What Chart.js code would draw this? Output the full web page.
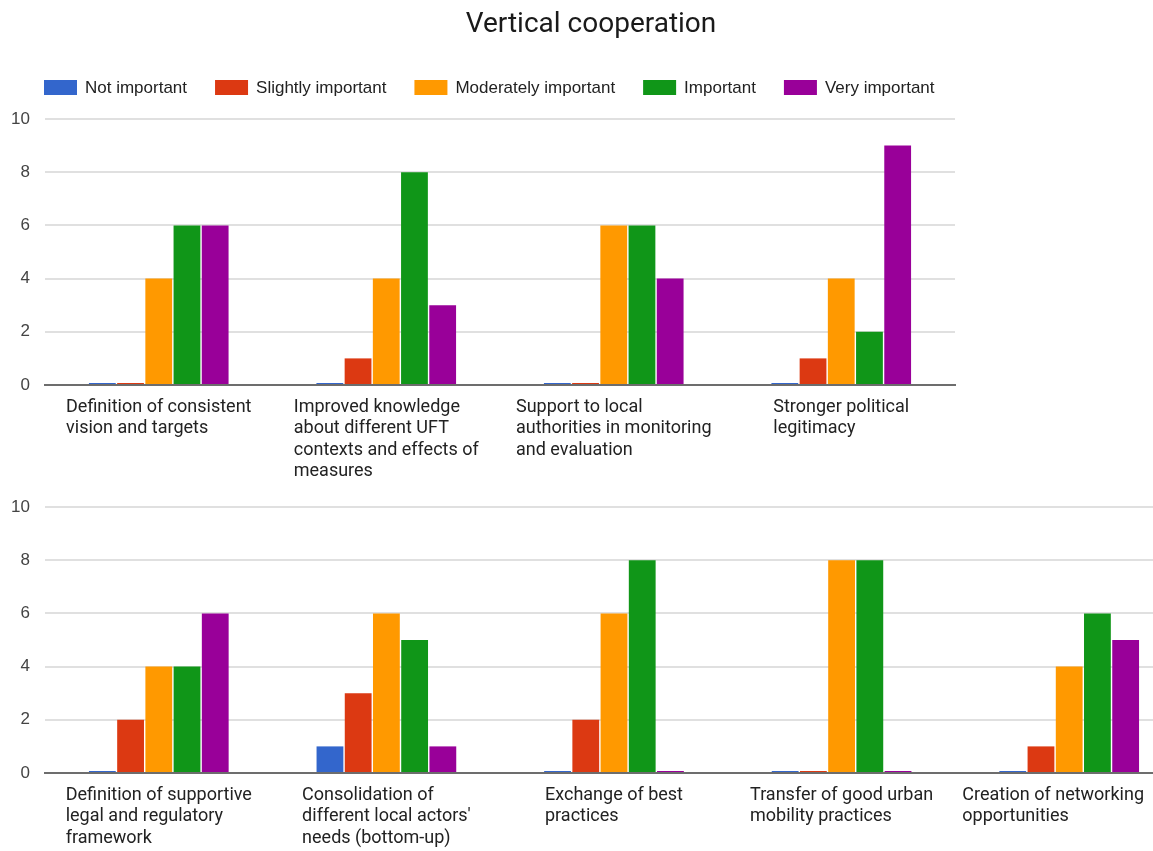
<!DOCTYPE html>
<html>
<head>
<meta charset="utf-8">
<title>Vertical cooperation</title>
<script src="https://cdn.jsdelivr.net/npm/chart.js@4.4.1/dist/chart.umd.min.js"></script>
<style>
  html, body { margin: 0; padding: 0; background: #fff; overflow: hidden; }
  #page { position: relative; width: 1153px; height: 851px; overflow: hidden; }
  #top { position: absolute; left: 0; top: 0; }
  #bottom { position: absolute; left: 0; top: 490px; }
</style>
</head>
<body>
<div id="page">
  <canvas id="top" width="1153" height="490"></canvas>
  <canvas id="bottom" width="1183" height="361"></canvas>
</div>
<script>
"use strict";

var chartTitle = 'Vertical cooperation';
var seriesNames = ['Not important', 'Slightly important', 'Moderately important', 'Important', 'Very important'];
var yTicks = [0, 2, 4, 6, 8, 10];

// first row of questions
var topCategories = [
  ['Definition of consistent', 'vision and targets'],
  ['Improved knowledge', 'about different UFT', 'contexts and effects of', 'measures'],
  ['Support to local', 'authorities in monitoring', 'and evaluation'],
  ['Stronger political', 'legitimacy']
];
var topNotImportant = [0, 0, 0, 0];
var topSlightly = [0, 1, 0, 1];
var topModerately = [4, 4, 6, 4];
var topImportant = [6, 8, 6, 2];
var topVery = [6, 3, 4, 9];

// second row of questions
var bottomCategories = [
  ['Definition of supportive', 'legal and regulatory', 'framework'],
  ['Consolidation of', "different local actors'", 'needs (bottom-up)'],
  ['Exchange of best', 'practices'],
  ['Transfer of good urban', 'mobility practices'],
  ['Creation of networking', 'opportunities']
];
var bottomNotImportant = [0, 1, 0, 0, 0];
var bottomSlightly = [2, 3, 2, 0, 1];
var bottomModerately = [4, 6, 6, 8, 4];
var bottomImportant = [4, 5, 8, 8, 6];
var bottomVery = [6, 1, 0, 0, 5];

var colors = ['#3366cc', '#dc3912', '#ff9900', '#109618', '#990099'];
var pageWidth = 1153;

// title + legend row, drawn above the first chart
var header = {
  id: 'header',
  afterDraw: function(chart) {
    var ctx = chart.ctx;
    ctx.save();
    ctx.fillStyle = '#1a1a1a';
    ctx.font = '28px Roboto';
    ctx.textAlign = 'center';
    ctx.textBaseline = 'alphabetic';
    ctx.fillText(chartTitle, 591, 32);

    ctx.font = '17px "Liberation Sans", Arial, sans-serif';
    ctx.textAlign = 'left';
    ctx.textBaseline = 'middle';
    var x = 44;
    chart.data.datasets.forEach(function(ds) {
      ctx.fillStyle = ds.backgroundColor;
      ctx.fillRect(x, 80, 33, 15);
      ctx.fillStyle = '#222';
      ctx.fillText(ds.label, x + 41, 88);
      x += 41 + ctx.measureText(ds.label).width + 28;
    });
    ctx.restore();
  }
};

// category names, wrapped and left aligned under each group
var wrappedLabels = {
  id: 'wrappedLabels',
  afterDraw: function(chart) {
    var ctx = chart.ctx, xs = chart.scales.x;
    ctx.save();
    ctx.font = '18px Roboto';
    ctx.fillStyle = '#222';
    ctx.textAlign = 'left';
    ctx.textBaseline = 'middle';
    chart.data.labels.forEach(function(lines, i) {
      var w = Math.max.apply(null, lines.map(function(l) { return ctx.measureText(l).width; }));
      var left = Math.max(chart.chartArea.left, xs.getPixelForValue(i) - w / 2);
      left = Math.min(left, pageWidth - 9 - w);
      lines.forEach(function(line, j) {
        ctx.fillText(line, left, xs.top + 22 + j * 21.5);
      });
    });
    ctx.restore();
  }
};

function makeChart(id, labels, values, padding, axisHeight, plugins) {
  var datasets = values.map(function(v, i) {
    return {
      label: seriesNames[i],
      data: v,
      backgroundColor: colors[i],
      borderWidth: 0,
      minBarLength: 2
    };
  });

  return new Chart(document.getElementById(id), {
    type: 'bar',
    data: { labels: labels, datasets: datasets },
    plugins: plugins,
    options: {
      responsive: false,
      animation: false,
      categoryPercentage: 0.62,
      barPercentage: 0.95,
      layout: { padding: padding },
      plugins: {
        legend: { display: false },
        title: { display: false },
        tooltip: { enabled: false }
      },
      scales: {
        x: {
          z: 1,
          grid: { display: false },
          border: { display: true, color: '#6d6d6d', width: 2 },
          ticks: { display: false },
          afterFit: function(scale) { scale.height = axisHeight; }
        },
        y: {
          min: 0,
          max: 10,
          afterBuildTicks: function(scale) {
            scale.ticks = yTicks.map(function(v) { return { value: v }; });
          },
          grid: { color: '#e0e0e0', lineWidth: 2, drawTicks: false },
          border: { display: false },
          ticks: {
            padding: 15,
            color: '#444',
            font: { family: '"Liberation Sans", Arial, sans-serif', size: 17 }
          },
          afterFit: function(scale) {
            scale.width = 45;
            scale.paddingTop = 0;
            scale.paddingBottom = 0;
          }
        }
      }
    }
  });
}

makeChart('top', topCategories,
  [topNotImportant, topSlightly, topModerately, topImportant, topVery],
  { top: 119, right: 198, left: 0, bottom: 0 }, 105, [header, wrappedLabels]);

makeChart('bottom', bottomCategories,
  [bottomNotImportant, bottomSlightly, bottomModerately, bottomImportant, bottomVery],
  { top: 17, right: 0, left: 0, bottom: 0 }, 78, [wrappedLabels]);
</script>
</body>
</html>
